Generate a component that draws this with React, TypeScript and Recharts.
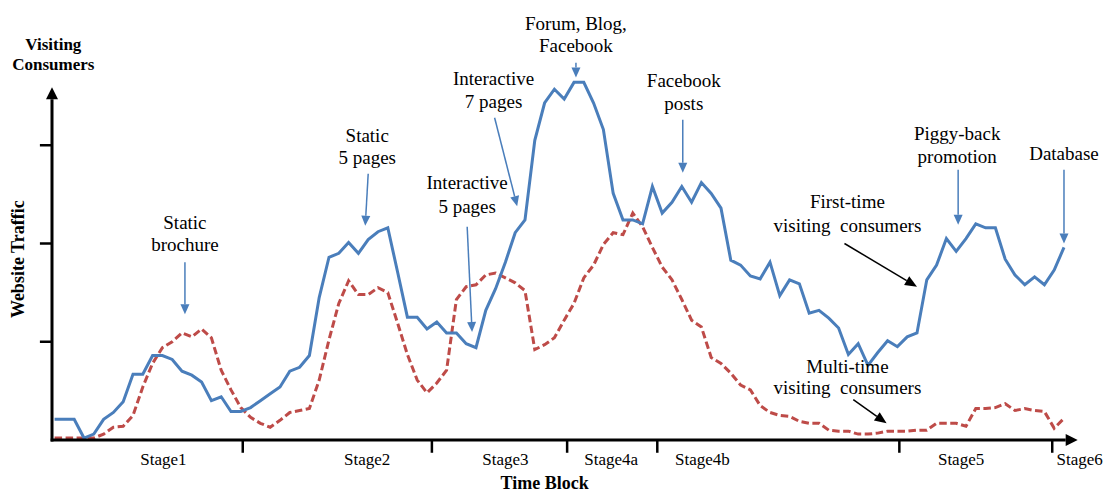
import React from "react"
import { LineChart, Line, XAxis, YAxis, ReferenceLine, ReferenceDot } from "recharts"

// website traffic per time block (index = time block)
const firstTime = [
  21, 21, 21, 2, 6, 21, 28, 39, 67, 67,
  86, 86, 82, 70, 66, 59, 40, 44, 29, 29,
  33, 40, 47, 54, 70, 74, 86, 145, 186, 190,
  201, 190, 204, 212, 216, 171, 125, 125, 113, 120,
  109, 109, 98, 94, 132, 154, 181, 211, 224, 305,
  343, 357, 347, 364, 364, 343, 316, 251, 224, 224,
  220, 258, 231, 242, 258, 242, 262, 251, 236, 183,
  178, 167, 164, 181, 147, 163, 159, 129, 132, 124,
  114, 87, 98, 76, 89, 101, 95, 105, 109, 163,
  178, 205, 192, 205, 220, 216, 216, 184, 168, 158,
  166, 158, 173, 196,
]

const multiTime = [
  2, 2, 2, 2, 2, 6, 13, 14, 25, 54,
  78, 94, 100, 109, 105, 113, 104, 71, 51, 33,
  23, 17, 13, 20, 28, 30, 32, 61, 102, 139,
  162, 148, 148, 155, 150, 119, 87, 61, 48, 58,
  71, 143, 156, 158, 168, 170, 165, 160, 152, 92,
  97, 104, 122, 139, 165, 178, 199, 211, 209, 231,
  217, 196, 176, 163, 143, 122, 115, 84, 78, 68,
  56, 51, 35, 28, 25, 24, 19, 17, 17, 10,
  9, 9, 6, 6, 7, 9, 9, 9, 10, 10,
  17, 17, 17, 14, 32, 32, 33, 37, 30, 32,
  30, 29, 12, 22,
]

const stageBounds = [19.2, 38.5, 52.3, 61.5, 86.2, 101.8]
const stageNames = ["Stage1", "Stage2", "Stage3", "Stage4a", "Stage4b", "Stage5", "Stage6"]
const stageCenters = [11.1, 31.9, 46.0, 56.8, 66.1, 92.5, 104.6]
const yTicks = [100, 200, 300]

// annotation text (x in time blocks, one y per line) and pointer arrows
const notes = [
  { lines: ["Static", "brochure"], x: 13.3, ys: [221, 199] },
  { lines: ["Static", "5 pages"], x: 31.9, ys: [310, 288] },
  { lines: ["Interactive", "5 pages"], x: 42.1, ys: [262, 238] },
  { lines: ["Interactive", "7 pages"], x: 44.8, ys: [368, 345] },
  { lines: ["Forum, Blog,", "Facebook"], x: 53.2, ys: [424, 402] },
  { lines: ["Facebook", "posts"], x: 64.2, ys: [366, 342] },
  { lines: ["First-time", "visiting  consumers"], x: 80.9, ys: [243, 218] },
  { lines: ["Piggy-back", "promotion"], x: 92.1, ys: [312, 289] },
  { lines: ["Database"], x: 103.0, ys: [292] },
  { lines: ["Multi-time", "visiting  consumers"], x: 80.9, ys: [75, 53] },
]

const pointers = [
  { from: [13.3, 181], to: [13.3, 128], dark: false },
  { from: [32.0, 271], to: [31.7, 218], dark: false },
  { from: [42.1, 217], to: [42.6, 110], dark: false },
  { from: [44.9, 328], to: [47.2, 238], dark: false },
  { from: [53.2, 384], to: [53.2, 369], dark: false },
  { from: [64.1, 326], to: [64.1, 272], dark: false },
  { from: [80.6, 200], to: [88.0, 156], dark: true },
  { from: [92.2, 275], to: [92.2, 219], dark: false },
  { from: [103.0, 275], to: [103.0, 200], dark: false },
  { from: [81.5, 41], to: [84.9, 17], dark: true },
]

const chartData = firstTime.map((v, i) => ({ i, first: v, multi: multiTime[i] }))

const serif = "'Liberation Serif', 'Times New Roman', serif"

const arrowShape = (color: string, width: number, head: number, half: number) => (props: any) => {
  const { x1, y1, x2, y2 } = props
  const dx = x2 - x1
  const dy = y2 - y1
  const len = Math.hypot(dx, dy) || 1
  const ux = dx / len
  const uy = dy / len
  const bx = x2 - ux * head
  const by = y2 - uy * head
  const pts = `${x2},${y2} ${bx - uy * half},${by + ux * half} ${bx + uy * half},${by - ux * half}`
  return (
    <g>
      <line x1={x1} y1={y1} x2={bx} y2={by} stroke={color} strokeWidth={width} />
      <polygon points={pts} fill={color} />
    </g>
  )
}

const plainLine = (color: string, width: number) => (props: any) => (
  <line x1={props.x1} y1={props.y1} x2={props.x2} y2={props.y2} stroke={color} strokeWidth={width} />
)

const textShape = (txt: string, size: number, bold = false, rotate = false) => (props: any) => {
  const { cx, cy } = props
  return (
    <text
      x={cx}
      y={cy}
      textAnchor="middle"
      dominantBaseline="central"
      fontFamily={serif}
      fontSize={size}
      fontWeight={bold ? "bold" : "normal"}
      fill="#000"
      style={{ whiteSpace: "pre" }}
      transform={rotate ? `rotate(-90 ${cx} ${cy})` : undefined}
    >
      {txt}
    </text>
  )
}

export default function App() {
  return (
    <div style={{ position: "absolute", left: 0, top: 0, background: "#fff" }}>
      <LineChart width={1106} height={493} data={chartData} margin={{ top: 47, right: 28, bottom: 53, left: 52 }}>
        <XAxis type="number" dataKey="i" domain={[-0.265, 104.43]} hide />
        <YAxis type="number" domain={[0, 400]} hide />

        <Line
          type="linear"
          dataKey="multi"
          stroke="#BE4B48"
          strokeWidth={3}
          strokeDasharray="7.5 3.5"
          dot={false}
          isAnimationActive={false}
        />
        <Line type="linear" dataKey="first" stroke="#4A7EBB" strokeWidth={3} dot={false} isAnimationActive={false} />

        {/* axes */}
        <ReferenceLine
          segment={[{ x: -0.4, y: 0 }, { x: 104.4, y: 0 }]}
          ifOverflow="visible"
          shape={arrowShape("#000", 3, 12, 6)}
        />
        <ReferenceLine
          segment={[{ x: -0.265, y: -1.5 }, { x: -0.265, y: 359 }]}
          ifOverflow="visible"
          shape={arrowShape("#000", 3, 12, 6)}
        />
        {yTicks.map((t) => (
          <ReferenceLine
            key={"yt" + t}
            segment={[{ x: -1.5, y: t }, { x: -0.265, y: t }]}
            ifOverflow="visible"
            shape={plainLine("#000", 2.5)}
          />
        ))}
        {stageBounds.map((b) => (
          <ReferenceLine
            key={"sb" + b}
            segment={[{ x: b, y: 0 }, { x: b, y: -13 }]}
            ifOverflow="visible"
            shape={plainLine("#000", 2.5)}
          />
        ))}
        {stageNames.map((s, k) => (
          <ReferenceDot key={s} x={stageCenters[k]} y={-19.5} ifOverflow="visible" shape={textShape(s, 17)} />
        ))}

        {/* axis titles */}
        <ReferenceDot x={50.0} y={-43.5} ifOverflow="visible" shape={textShape("Time Block", 18, true)} />
        <ReferenceDot x={-0.13} y={403} ifOverflow="visible" shape={textShape("Visiting", 17, true)} />
        <ReferenceDot x={-0.13} y={382} ifOverflow="visible" shape={textShape("Consumers", 17, true)} />
        <ReferenceDot x={-3.73} y={184} ifOverflow="visible" shape={textShape("Website Traffic", 18, true, true)} />

        {/* annotations */}
        {pointers.map((p, k) => (
          <ReferenceLine
            key={"p" + k}
            segment={[{ x: p.from[0], y: p.from[1] }, { x: p.to[0], y: p.to[1] }]}
            ifOverflow="visible"
            shape={p.dark ? arrowShape("#000", 1.5, 12, 5) : arrowShape("#4A7EBB", 1.5, 10, 4.5)}
          />
        ))}
        {notes.flatMap((n, k) =>
          n.lines.map((l, j) => (
            <ReferenceDot key={"n" + k + j} x={n.x} y={n.ys[j]} ifOverflow="visible" shape={textShape(l, 19)} />
          ))
        )}
      </LineChart>
    </div>
  )
}
